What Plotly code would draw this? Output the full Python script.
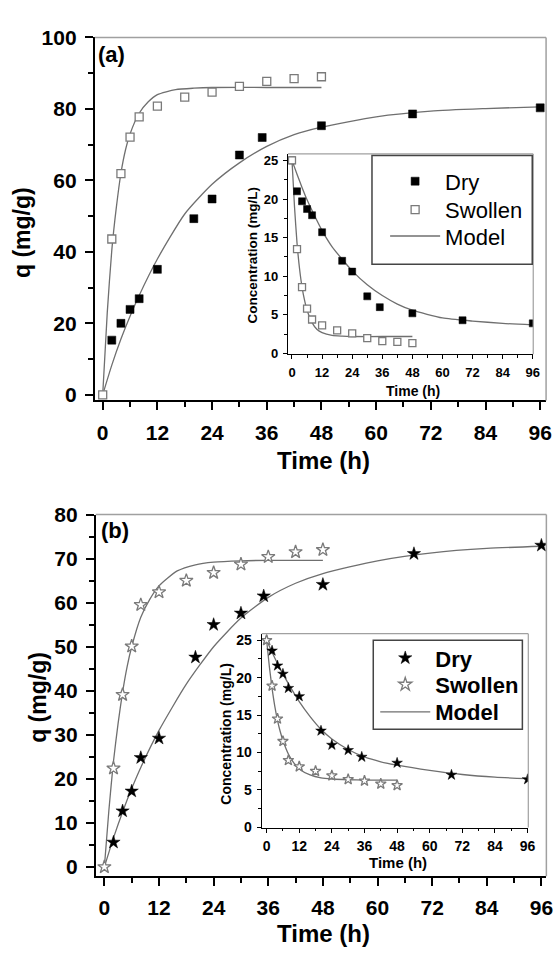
import plotly.graph_objects as go

# ---------------- Panel (a) data ----------------
a_dry_t = [2, 4, 6, 8, 12, 20, 24, 30, 35, 48, 68, 96]
a_dry_q = [15.3, 20.0, 23.9, 26.9, 35.1, 49.3, 54.8, 67.1, 72.0, 75.3, 78.6, 80.3]
a_sw_t = [0, 2, 4, 6, 8, 12, 18, 24, 30, 36, 42, 48]
a_sw_q = [0, 43.6, 61.9, 72.1, 77.8, 80.8, 83.3, 84.7, 86.3, 87.7, 88.5, 89.0]
a_dry_model_t = [0, 2, 4, 6, 8, 12, 18, 24, 30, 36, 42, 48, 60, 72, 84, 96]
a_dry_model_q = [0, 8.3, 15.6, 22.0, 27.8, 38.0, 50.6, 58.9, 64.9, 69.5, 72.8, 74.9, 77.8, 79.4, 80.1, 80.6]
a_sw_model_t = [0, 1, 2, 3, 4, 5, 6, 8, 10, 12, 16, 20, 24, 36, 48]
a_sw_model_q = [0, 23, 40.5, 52.5, 62, 68.5, 73, 78.8, 82, 84, 85.4, 85.8, 86, 86, 86]

# inset (a): concentration
ai_dry_t = [0, 2, 4, 6, 8, 12, 20, 24, 30, 35, 48, 68, 96]
ai_dry_c = [25, 21.0, 19.7, 18.7, 17.9, 15.7, 12.0, 10.6, 7.4, 6.0, 5.2, 4.3, 3.9]
ai_sw_t = [0, 2, 4, 6, 8, 12, 18, 24, 30, 36, 42, 48]
ai_sw_c = [25, 13.5, 8.6, 5.8, 4.4, 3.65, 3.0, 2.6, 2.0, 1.6, 1.5, 1.35]
ai_dry_model_t = [0, 2, 4, 6, 8, 12, 16, 20, 24, 30, 36, 42, 48, 60, 72, 84, 96]
ai_dry_model_c = [25, 23.2, 21.5, 19.9, 18.5, 15.9, 13.8, 12.2, 10.7, 8.9, 7.5, 6.4, 5.6, 4.6, 4.2, 3.9, 3.7]
ai_sw_model_t = [0, 1, 2, 3, 4, 5, 6, 8, 10, 12, 16, 20, 24, 36, 48]
ai_sw_model_c = [25, 19, 14.3, 11, 8.6, 6.9, 5.6, 4.0, 3.1, 2.7, 2.35, 2.25, 2.2, 2.2, 2.2]

# ---------------- Panel (b) data ----------------
b_dry_t = [2, 4, 6, 8, 12, 20, 24, 30, 35, 48, 68, 96]
b_dry_q = [5.6, 12.7, 17.2, 24.8, 29.2, 47.6, 55.0, 57.6, 61.5, 64.1, 71.1, 73.0]
b_sw_t = [0, 2, 4, 6, 8, 12, 18, 24, 30, 36, 42, 48]
b_sw_q = [0, 22.4, 39.1, 50.1, 59.5, 62.4, 65.0, 66.8, 68.7, 70.4, 71.5, 72.0]
b_dry_model_t = [0, 2, 4, 6, 8, 12, 18, 24, 30, 36, 42, 48, 60, 72, 84, 96]
b_dry_model_q = [0, 6.6, 12.5, 17.8, 22.6, 31.0, 41.5, 50.0, 56.5, 61.2, 64.4, 66.6, 69.5, 71.3, 72.3, 72.8]
b_sw_model_t = [0, 1, 2, 3, 4, 5, 6, 8, 10, 12, 16, 20, 24, 30, 36, 48]
b_sw_model_q = [0, 13, 24, 32.5, 39.7, 45.5, 50, 56.7, 60.8, 63.8, 67.2, 68.6, 69.2, 69.5, 69.6, 69.6]

# inset (b)
bi_dry_t = [0, 2, 4, 6, 8, 12, 20, 24, 30, 35, 48, 68, 96]
bi_dry_c = [25, 23.6, 21.6, 20.5, 18.6, 17.5, 12.9, 11.0, 10.3, 9.4, 8.6, 7.0, 6.4]
bi_sw_t = [0, 2, 4, 6, 8, 12, 18, 24, 30, 36, 42, 48]
bi_sw_c = [25, 18.9, 14.5, 11.5, 8.95, 8.1, 7.5, 6.9, 6.4, 6.2, 5.8, 5.6]
bi_dry_model_t = [0, 2, 4, 6, 8, 12, 16, 20, 24, 30, 36, 42, 48, 60, 72, 84, 96]
bi_dry_model_c = [25, 23.4, 21.9, 20.5, 19.2, 16.8, 14.8, 13.1, 11.8, 10.4, 9.4, 8.75, 8.3, 7.6, 7.05, 6.7, 6.5]
bi_sw_model_t = [0, 1, 2, 3, 4, 5, 6, 8, 10, 12, 16, 20, 24, 30, 36, 48]
bi_sw_model_c = [25, 21.5, 18.6, 16.2, 14.3, 12.8, 11.6, 9.8, 8.6, 7.8, 7.0, 6.6, 6.45, 6.35, 6.3, 6.3]

x_ticks = [0, 12, 24, 36, 48, 60, 72, 84, 96]
legend_names = ["Dry", "Swollen", "Model"]

W, H = 559, 954
FONT = "Liberation Sans, Arial, sans-serif"
LINE_C = "#6f6f6f"
OPEN_C = "#7a7a7a"
FRAME_C = "#a0a0a0"

fig = go.Figure()


def px_x(p):
    return p / W


def px_y(p):
    return 1 - p / H


def add_model(x, y, xa, ya, legend=None, show=False):
    fig.add_trace(go.Scatter(x=x, y=y, mode="lines", line=dict(color=LINE_C, width=1.3, shape="spline", smoothing=0.6),
                             xaxis=xa, yaxis=ya, name=legend_names[2], showlegend=show,
                             legend=legend, hoverinfo="skip"))


def add_pts(x, y, xa, ya, sym, filled, size, name, legend=None, show=False):
    if filled:
        mk = dict(symbol=sym, size=size, color="black", line=dict(color="black", width=0.5))
    else:
        mk = dict(symbol=sym, size=size, color="white", line=dict(color=OPEN_C, width=1.3))
    fig.add_trace(go.Scatter(x=x, y=y, mode="markers", marker=mk, xaxis=xa, yaxis=ya,
                             name=name, showlegend=show, legend=legend))


# Panel (a) main
add_model(a_dry_model_t, a_dry_model_q, "x", "y", legend="legend3", show=True)
add_model(a_sw_model_t, a_sw_model_q, "x", "y")
add_pts(a_dry_t, a_dry_q, "x", "y", "square", True, 8, legend_names[0], "legend", True)
add_pts(a_sw_t, a_sw_q, "x", "y", "square", False, 8, legend_names[1], "legend2", True)
# inset (a)
add_model(ai_dry_model_t, ai_dry_model_c, "x2", "y2")
add_model(ai_sw_model_t, ai_sw_model_c, "x2", "y2")
add_pts(ai_dry_t, ai_dry_c, "x2", "y2", "square", True, 7, legend_names[0])
add_pts(ai_sw_t, ai_sw_c, "x2", "y2", "square", False, 7, legend_names[1])

# Panel (b) main
add_model(b_dry_model_t, b_dry_model_q, "x3", "y3", legend="legend6", show=True)
add_model(b_sw_model_t, b_sw_model_q, "x3", "y3")
add_pts(b_dry_t, b_dry_q, "x3", "y3", "star", True, 10, legend_names[0], "legend4", True)
add_pts(b_sw_t, b_sw_q, "x3", "y3", "star", False, 10, legend_names[1], "legend5", True)
# inset (b)
add_model(bi_dry_model_t, bi_dry_model_c, "x4", "y4")
add_model(bi_sw_model_t, bi_sw_model_c, "x4", "y4")
add_pts(bi_dry_t, bi_dry_c, "x4", "y4", "star", True, 8, legend_names[0])
add_pts(bi_sw_t, bi_sw_c, "x4", "y4", "star", False, 8, legend_names[1])


def main_axis(domain, rng, dtick, minor_dtick, anchor, standoff=4, fsize=21):
    return dict(domain=domain, range=rng, dtick=dtick, tick0=0, ticks="outside", ticklen=8, tickwidth=2,
                tickcolor="black", showline=True, linecolor="black", linewidth=2, showgrid=False,
                zeroline=False, mirror=False, anchor=anchor, ticklabelstandoff=standoff,
                tickfont=dict(family=FONT, size=fsize, color="black", weight="bold"),
                minor=dict(dtick=minor_dtick, tick0=0, ticks="outside", ticklen=5, tickwidth=1.5,
                           tickcolor="black", showgrid=False))


def inset_axis(domain, rng, dtick, minor_dtick, anchor, fsize=13):
    return dict(domain=domain, range=rng, dtick=dtick, tick0=0, ticks="outside", ticklen=4, tickwidth=1.2,
                tickcolor="black", showline=True, linecolor="black", linewidth=1.3, showgrid=False,
                zeroline=False, mirror=False, anchor=anchor, ticklabelstandoff=2,
                tickfont=dict(family=FONT, size=fsize, color="black", weight="bold"),
                minor=dict(dtick=minor_dtick, tick0=0, ticks="outside", ticklen=2.5, tickwidth=1,
                           tickcolor="black", showgrid=False))


xa = main_axis([px_x(96), px_x(553)], [-1.733, 97.29], 12, 6, "y")
ya = main_axis([px_y(396.7), px_y(26)], [-1.56, 100], 20, 10, "x")
xa2 = inset_axis([px_x(291.7), px_x(540)], [-1.575, 96.18], 12, 6, "y2")
ya2 = inset_axis([px_y(349.6), px_y(145)], [-0.1, 25.83], 5, 2.5, "x2")
xa3 = main_axis([px_x(97), px_x(553.3)], [-1.887, 97.09], 12, 6, "y3")
ya3 = main_axis([px_y(882.7), px_y(513.3)], [-2.09, 80], 10, 5, "x3")
xa4 = inset_axis([px_x(265), px_x(535)], [-1.816, 96.26], 12, 6, "y4", fsize=14)
ya4 = inset_axis([px_y(833), px_y(635)], [-0.04, 25.88], 5, 2.5, "x4", fsize=14)
for ax in (xa, xa2, xa3, xa4):
    ax["tickvals"] = x_ticks

shapes = []
for xr, yr, w in (("x", "y", 1.5), ("x2", "y2", 1.2), ("x3", "y3", 1.5), ("x4", "y4", 1.2)):
    shapes.append(dict(type="line", xref=f"{xr} domain", yref=f"{yr} domain", x0=0, x1=1, y0=1, y1=1,
                       line=dict(color=FRAME_C, width=w)))
    shapes.append(dict(type="line", xref=f"{xr} domain", yref=f"{yr} domain", x0=1, x1=1, y0=0, y1=1,
                       line=dict(color=FRAME_C, width=w)))
# legend frames
for x0, x1, y0, y1 in ((376.7, 539, 146.7, 257.7), (378, 529, 641.7, 732.7)):
    shapes.append(dict(type="rect", xref="paper", yref="paper", x0=px_x(x0), x1=px_x(x1),
                       y0=px_y(y1), y1=px_y(y0), line=dict(color="#444", width=1.5),
                       fillcolor="white", layer="above"))


def ann(text, x, y, size, angle=0, bold=True):
    return dict(text=text, x=px_x(x), y=px_y(y), xref="paper", yref="paper", showarrow=False,
                textangle=angle, xanchor="center", yanchor="middle",
                font=dict(family=FONT, size=size, color="black", weight="bold" if bold else "normal"))


annotations = [
    ann("(a)", 113, 43, 22),
    ann("(b)", 116, 530, 22),
    ann("q (mg/g)", 23, 225, 23, -90),
    ann("q (mg/g)", 39, 700, 23, -90),
    ann("Time (h)", 328, 458, 24),
    ann("Time (h)", 328, 941, 24),
    ann("Concentration (mg/L)", 256, 248, 13.5, -90),
    ann("Concentration (mg/L)", 228, 737, 14, -90),
    ann("Time (h)", 418, 387, 14),
    ann("Time (h)", 403, 869, 15),
]


def leg(xpx, ypx, bold):
    return dict(x=px_x(xpx), y=px_y(ypx), xanchor="left", yanchor="middle", bgcolor="rgba(0,0,0,0)",
                borderwidth=0, itemwidth=50, tracegroupgap=0,
                font=dict(family=FONT, size=22, color="black", weight="bold" if bold else "normal"))


fig.update_layout(
    width=W, height=H, margin=dict(l=0, r=0, t=0, b=0),
    paper_bgcolor="white", plot_bgcolor="white",
    xaxis=xa, yaxis=ya, xaxis2=xa2, yaxis2=ya2, xaxis3=xa3, yaxis3=ya3, xaxis4=xa4, yaxis4=ya4,
    shapes=shapes, annotations=annotations,
    legend=leg(390, 173, False), legend2=leg(390, 202, False), legend3=leg(390, 229, False),
    legend4=leg(380, 660, True), legend5=leg(380, 687, True), legend6=leg(380, 715, True),
    showlegend=True,
)

fig.write_html("out.html", config={"displayModeBar": False},
               post_script="document.body.style.margin='0px';document.body.style.overflow='hidden';")
